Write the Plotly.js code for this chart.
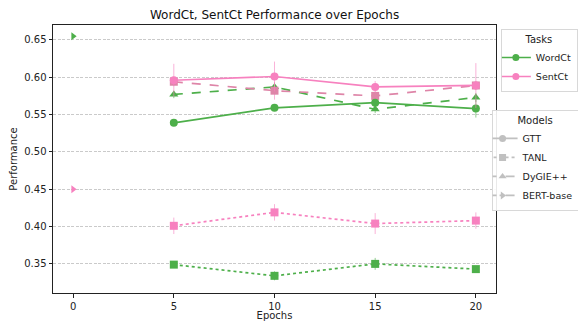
<!DOCTYPE html>
<html><head><meta charset="utf-8">
<script src="https://cdn.plot.ly/plotly-3.0.1.min.js"></script>
<style>body{margin:0;padding:0;background:#fff}#chart{width:578px;height:321px}</style>
</head><body><div id="chart"></div>
<script>
const epochs = [5, 10, 15, 20];
const bertEpoch = [0];

const gttWord = [0.539, 0.559, 0.566, 0.558];
const gttWordErr = [0.003, 0.003, 0.004, 0.012];
const gttSent = [0.596, 0.601, 0.587, 0.589];
const gttSentErr = [0.022, 0.02, 0.008, 0.03];

const tanlWord = [0.349, 0.334, 0.350, 0.343];
const tanlWordErr = [0.004, 0.006, 0.008, 0.004];
const tanlSent = [0.401, 0.419, 0.404, 0.408];
const tanlSentErr = [0.011, 0.011, 0.014, 0.011];

const dygieWord = [0.577, 0.587, 0.557, 0.573];
const dygieWordErr = [0.005, 0.006, 0.005, 0.006];
const dygieSent = [0.594, 0.582, 0.575, 0.589];
const dygieSentErr = [0.006, 0.012, 0.006, 0.006];

const bertWord = [0.655];
const bertSent = [0.450];

const GREEN = '#4daf4a', PINK = '#f781bf', PINK2 = '#de85a8', GREY = '#c0c0c0';

function tr(x, y, err, color, dash, symbol, size, errColor) {
  const t = {x: x, y: y, type: 'scatter', mode: 'lines+markers', showlegend: false,
    line: {color: color, width: 1.7, dash: dash},
    marker: {color: color, symbol: symbol, size: size}};
  if (err) t.error_y = {type: 'data', array: err, visible: true, color: errColor, thickness: 1, width: 0};
  return t;
}
const GREEN_E = 'rgba(77,175,74,0.6)', PINK_E = 'rgba(247,129,191,0.6)';
const traces = [
  tr(epochs, tanlWord, tanlWordErr, GREEN, 'dot', 'square', 8, GREEN_E),
  tr(epochs, tanlSent, tanlSentErr, PINK, 'dot', 'square', 8, PINK_E),
  tr(epochs, dygieWord, dygieWordErr, GREEN, 'dash', 'triangle-up', 8, GREEN_E),
  tr(epochs, dygieSent, dygieSentErr, PINK2, 'dash', 'square', 8, PINK_E),
  tr(epochs, gttWord, gttWordErr, GREEN, 'solid', 'circle', 8, GREEN_E),
  tr(epochs, gttSent, gttSentErr, PINK, 'solid', 'circle', 8, PINK_E),
  tr(bertEpoch, bertWord, null, GREEN, 'dashdot', 'triangle-right', 7),
  tr(bertEpoch, bertSent, null, PINK, 'dashdot', 'triangle-right', 7)
];
const tasks = [['WordCt', GREEN], ['SentCt', PINK]];
tasks.forEach(([n, c]) => traces.push({x: [null], y: [null], type: 'scatter', mode: 'lines+markers', name: n,
  legend: 'legend', line: {color: c, width: 1.7}, marker: {color: c, symbol: 'circle', size: 7}}));
const models = [['GTT', 'solid', 'circle'], ['TANL', 'dot', 'square'], ['DyGIE++', 'dash', 'triangle-up'], ['BERT-base', 'dashdot', 'triangle-right']];
models.forEach(([n, d, s]) => traces.push({x: [null], y: [null], type: 'scatter', mode: 'lines+markers', name: n,
  legend: 'legend2', line: {color: GREY, width: 1.7, dash: d}, marker: {color: GREY, symbol: s, size: 7}}));

const layout = {
  width: 578, height: 321,
  margin: {l: 53, r: 82, t: 25, b: 28, autoexpand: false},
  paper_bgcolor: '#fff', plot_bgcolor: '#fff',
  font: {family: 'DejaVu Sans', size: 10, color: '#222'},
  title: {text: 'WordCt, SentCt Performance over Epochs', x: 0.475, xanchor: 'center', y: 0.953, yanchor: 'middle', font: {size: 12, color: '#111'}},
  xaxis: {range: [-1, 21], tickvals: [0, 5, 10, 15, 20], showgrid: false, zeroline: false,
    showline: true, mirror: true, linecolor: '#222', linewidth: 1, ticks: 'outside', ticklen: 3.5, tickcolor: '#222',
    title: {text: 'Epochs', standoff: 6, font: {size: 10}}},
  yaxis: {range: [0.311, 0.67], tickvals: [0.35, 0.40, 0.45, 0.50, 0.55, 0.60, 0.65], tickformat: '.2f',
    showgrid: true, gridcolor: '#bdbdbd', griddash: '3px,1.5px', gridwidth: 0.8, zeroline: false,
    showline: true, mirror: true, linecolor: '#222', linewidth: 1, ticks: 'outside', ticklen: 3.5, tickcolor: '#222',
    title: {text: 'Performance', standoff: 4, font: {size: 10}}},
  legend: {x: 1.011, y: 0.985, xanchor: 'left', yanchor: 'top', bgcolor: 'rgba(255,255,255,0.9)', bordercolor: '#d8d8d8', borderwidth: 1,
    title: {text: 'Tasks', side: 'top center', font: {size: 10}}, font: {size: 9.5}, itemwidth: 30, tracegroupgap: 0, indentation: -6},
  legend2: {x: 0.99, y: 0.683, xanchor: 'left', yanchor: 'top', bgcolor: 'rgba(255,255,255,0.9)', bordercolor: '#d8d8d8', borderwidth: 1,
    title: {text: 'Models', side: 'top center', font: {size: 10}}, font: {size: 9.5}, itemwidth: 30, tracegroupgap: 0, indentation: -10}
};
Plotly.newPlot('chart', traces, layout, {displayModeBar: false, staticPlot: true});
</script></body></html>
